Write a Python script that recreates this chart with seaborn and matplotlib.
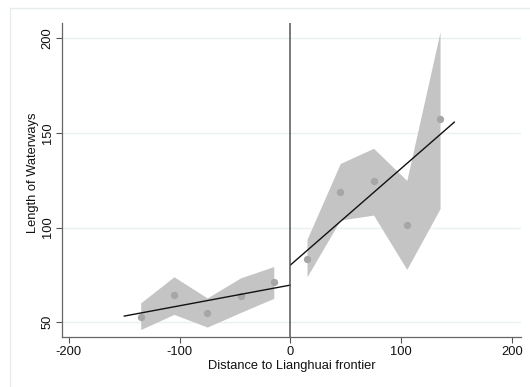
import numpy as np
import pandas as pd
import matplotlib
matplotlib.use("Agg")
import matplotlib.pyplot as plt
import seaborn as sns
from matplotlib.patches import Rectangle

# ---- data ----
bin_x_left = [-135, -105, -75, -45, -15]
mean_left = [52.8, 64.3, 54.8, 63.8, 71.3]
ci_lo_left = [46.1, 54.1, 47.4, 55.1, 62.6]
ci_hi_left = [60.2, 74.0, 62.8, 73.4, 79.4]

bin_x_right = [15, 45, 75, 105, 135]
mean_right = [83.3, 118.8, 124.4, 101.2, 157.4]
ci_lo_right = [74.0, 104.0, 106.6, 77.9, 110.0]
ci_hi_right = [93.8, 133.9, 141.9, 124.9, 203.5]

fit_x_left = [-150, 0]
fit_y_left = [53.2, 69.6]
fit_x_right = [0, 148]
fit_y_right = [80.2, 155.8]

x_ticks = [-200, -100, 0, 100, 200]
y_ticks = [50, 100, 150, 200]

sns.set_theme(style="white")
plt.rcParams['font.family'] = ['Liberation Sans', 'DejaVu Sans']

fig = plt.figure(figsize=(5.30, 3.87), dpi=100)
fig.patch.set_facecolor("white")
ax = fig.add_axes([62/530, 1-337.3/387, (521-62)/530, (337.3-22.7)/387])

# frame around plot region (Stata graph region outline)
fig.patches.append(Rectangle((10/530, -0.1), 1.2, 1 - 8/387 + 0.1, transform=fig.transFigure,
                             fill=False, edgecolor="#E6ECEE", linewidth=1.0))

for y in y_ticks:
    ax.axhline(y, color="#E9F1F2", linewidth=1.0, zorder=0)

ax.fill_between(bin_x_left, ci_lo_left, ci_hi_left, color="#C4C4C4", linewidth=0, zorder=1)
ax.fill_between(bin_x_right, ci_lo_right, ci_hi_right, color="#C4C4C4", linewidth=0, zorder=1)

pts = pd.DataFrame({"x": bin_x_left + bin_x_right, "y": mean_left + mean_right})
sns.scatterplot(data=pts, x="x", y="y", ax=ax, color="#A6A6A6", s=28, linewidth=0, zorder=2)

fl = pd.DataFrame({"x": fit_x_left, "y": fit_y_left})
fr = pd.DataFrame({"x": fit_x_right, "y": fit_y_right})
sns.lineplot(data=fl, x="x", y="y", ax=ax, color="#111111", linewidth=1.0, zorder=3)
sns.lineplot(data=fr, x="x", y="y", ax=ax, color="#111111", linewidth=1.0, zorder=3)

ax.axvline(0, color="#555555", linewidth=1.1, zorder=4)

ax.set_xlim(-206, 208)
ax.set_ylim(42, 208.3)
ax.set_xticks(x_ticks)
ax.set_yticks(y_ticks)
ax.set_xticklabels([str(t) for t in x_ticks])
ax.set_yticklabels([str(t) for t in y_ticks], rotation=90, va="center")
ax.tick_params(axis="both", direction="out", length=4, width=0.8, color="#555555",
               labelsize=9.3, labelcolor="#111111", pad=2, left=True, bottom=True)

for s in ["top", "right"]:
    ax.spines[s].set_visible(False)
for s in ["left", "bottom"]:
    ax.spines[s].set_color("#666666")
    ax.spines[s].set_linewidth(0.9)

ax.set_xlabel("Distance to Lianghuai frontier", fontsize=9.3, color="#111111", labelpad=2)
ax.set_ylabel("Length of Waterways", fontsize=9.3, color="#111111", labelpad=3)
ax.yaxis.set_label_coords(-0.05, 0.522)
ax.set_facecolor("white")

fig.savefig("out.png", dpi=100, facecolor="white")
